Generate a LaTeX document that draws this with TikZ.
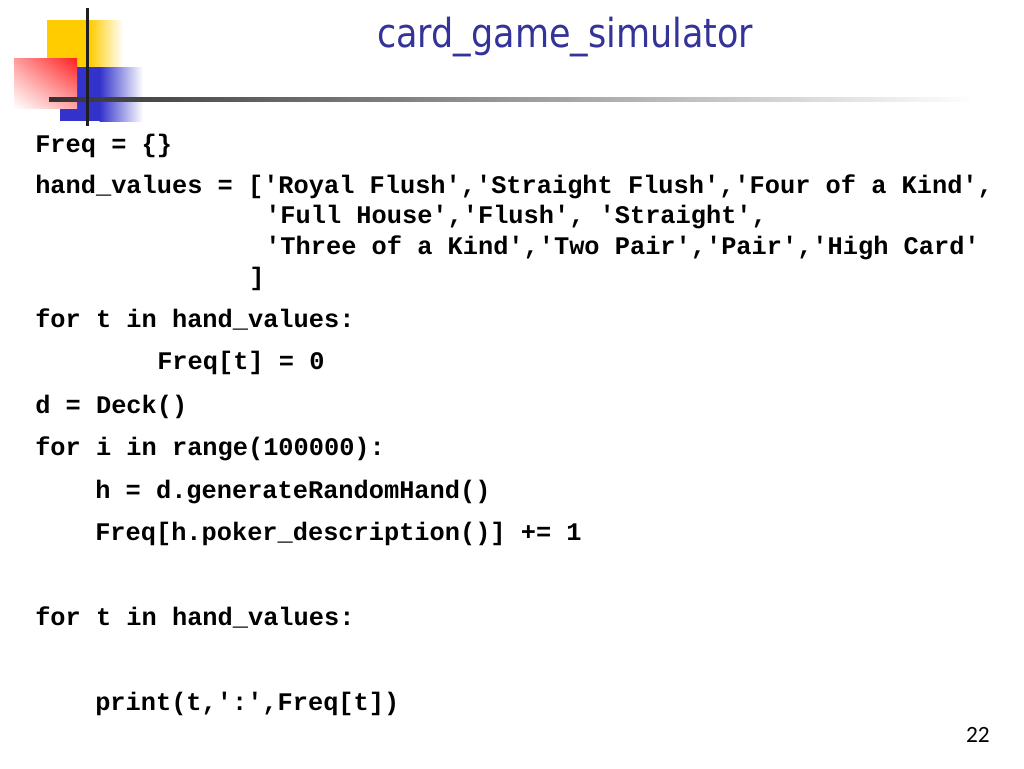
\documentclass[tikz,border=0pt]{standalone}
\usepackage{fontspec}
\usetikzlibrary{shadings}
\setmonofont{Liberation Mono}
\newfontfamily\titlefont{DejaVu Sans}
\newfontfamily\numfont{Carlito}
\definecolor{titleblue}{HTML}{333399}
\definecolor{logoyellow}{HTML}{FFCC00}
\definecolor{logoblue}{HTML}{3333CC}
\definecolor{logored}{HTML}{FF2020}
\definecolor{linegray}{HTML}{333333}
\tikzset{
  code/.style={anchor=base west, inner sep=0pt, font=\fontsize{19}{19}\selectfont\ttfamily\bfseries},
  titletext/.style={anchor=base west, inner sep=0pt, text=titleblue, font=\fontsize{30}{30}\selectfont\titlefont},
  pagenum/.style={anchor=base east, inner sep=0pt, font=\fontsize{17.5}{17.5}\selectfont\numfont}
}
\begin{document}
\begin{tikzpicture}[x=0.75pt,y=-0.75pt]
\useasboundingbox[fill=white] (0,0) rectangle (1024,768);
% logo
\fill[logoyellow] (47,20) rectangle (90,67);
\shade[left color=logoyellow, right color=white] (89.5,20) rectangle (123,67);
\fill[logoblue] (60,67) rectangle (100,121);
\shade[left color=logoblue, right color=white] (99.5,67) rectangle (143,121);
\shade[upper right=logored, upper left=logored!45!white, lower right=logored!40!white, lower left=white] (14,58) rectangle (77,108);
\shade[left color=linegray, middle color=black!27, right color=white] (49,97) rectangle (975,101);
\fill[black!88] (85.5,8) rectangle (88.5,126);
% title
\node[titletext, xscale=0.875] (title) at (377,47) {card\_game\_simulator};
% code
\node[code] (l1) at (35,152) {Freq = \{\}};
\node[code] (l2) at (35,193) {hand\_values = ['Royal Flush','Straight Flush','Four of a Kind',};
\node[code] (l3) at (265,223.5) {'Full House','Flush', 'Straight',};
\node[code] (l4) at (265,254) {'Three of a Kind','Two Pair','Pair','High Card'};
\node[code] (l5) at (249,285) {]};
\node[code] (l6) at (35,327) {for t in hand\_values:};
\node[code] (l7) at (157,369) {Freq[t] = 0};
\node[code] (l8) at (35,413) {d = Deck()};
\node[code] (l9) at (35,455) {for i in range(100000):};
\node[code] (l10) at (95,498) {h = d.generateRandomHand()};
\node[code] (l11) at (95,540) {Freq[h.poker\_description()] += 1};
\node[code] (l12) at (35,625) {for t in hand\_values:};
\node[code] (l13) at (95,710) {print(t,':',Freq[t])};
% page number
\node[pagenum] (num) at (990,742) {22};
\end{tikzpicture}
\end{document}
